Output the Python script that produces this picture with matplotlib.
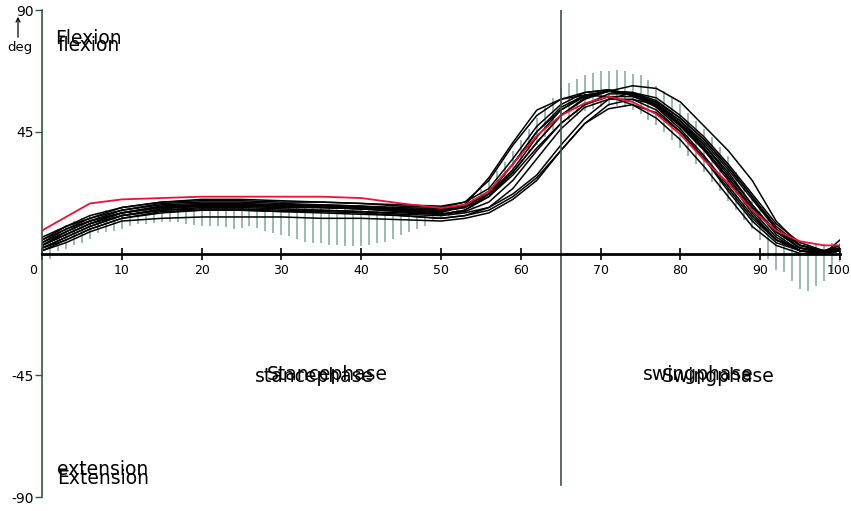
import matplotlib
matplotlib.use("Agg")
import matplotlib.pyplot as plt
import matplotlib.transforms as mtransforms

# ---------------- data ----------------
x_pct = [0, 3, 6, 10, 15, 20, 25, 30, 35, 40, 45, 50, 53, 56, 59, 62, 65, 68, 71, 74, 77, 80, 83, 86, 89, 92, 95, 98, 100]

curve_01 = [5, 10, 14, 17, 19, 19.5, 19.5, 19, 19, 18.5, 17.5, 17, 19, 27, 40, 51, 57, 59.5, 60.5, 58.5, 54, 46, 36, 25, 14, 5, 2, 1, 2]
curve_02 = [3, 7, 11, 15, 17.5, 18, 18, 18, 17.5, 17, 16, 15.5, 17, 23, 33, 45, 53, 58, 60, 58.5, 54.5, 47.5, 38.5, 28, 17, 8, 2, 0.5, 1.5]
curve_03 = [2, 6, 10, 14, 16, 17, 17, 16.5, 16, 15.5, 14.5, 14, 15, 17, 22, 29, 40, 50, 57, 59.5, 57.5, 51, 43, 33, 22, 11, 4, 1, 1]
curve_04 = [4, 8, 12, 16, 18.5, 19, 19, 18.5, 18, 17.5, 16.5, 16, 17.5, 22, 30, 41, 51, 57.5, 60, 59.5, 56.5, 50, 42, 32, 21, 10, 3, 1, 2]
curve_05 = [3, 7, 11, 14, 16, 16.5, 16.5, 16, 16, 15.5, 15, 14.5, 16, 21, 30, 41, 51, 57, 60, 62, 61, 56, 47, 38, 27, 12, 3, 1, 2]
curve_06 = [1, 4, 8, 12, 13, 13.5, 13.5, 13.5, 13, 13, 12.5, 12, 13, 15, 20, 27, 38, 48, 53.5, 55, 52, 45, 35, 24, 13, 5, 1, 0, 1]
curve_07 = [2, 5, 9, 13, 15.5, 16, 16, 15.5, 15, 14.5, 14, 13, 14, 17, 24, 35, 46, 54, 57, 57, 53, 45, 35, 23, 12, 4, 1, 0, 1]
curve_08 = [4, 9, 13, 17, 19, 20, 20, 19.5, 19, 18.5, 18, 17.5, 19, 24, 35, 47, 55, 59.5, 60.5, 59, 55, 48, 40, 30, 18, 8, 2, 1, 3]
curve_09 = [3, 7, 11, 15, 17, 17.5, 17.5, 17, 17, 16.5, 16, 15, 18, 28, 41, 53, 57, 58.5, 58, 55, 50, 42, 32, 21, 10, 3, 0, 0, 1]
curve_10 = [6, 10, 13, 16, 18, 18.5, 18.5, 18, 18, 17.5, 17, 16.5, 18, 22, 31, 43, 53, 58.5, 60, 59.5, 55.5, 49, 41, 31, 20, 9, 3, 1, 3]
curve_11 = [2, 6, 10, 14, 16.5, 17.5, 17.5, 17, 17, 16.5, 15.5, 14.5, 15.5, 19, 27, 38, 48, 55, 58, 58, 55, 48, 39, 28, 16, 6, 1, 0, 5]
curve_12 = [5, 9, 12, 15, 17, 17.5, 18, 17.5, 17.5, 17, 16.5, 16, 17, 21, 29, 39, 48, 55, 59, 59, 56, 50, 42, 32, 21, 9, 2, 0, 1]
curve_13 = [1, 5, 9, 13, 15, 16, 16, 15.5, 15.5, 15, 14, 13, 14, 16, 21, 28, 38, 48, 55, 57, 55, 49, 40, 29, 18, 7, 1, 0, 2]
curve_14 = [3, 8, 12, 15, 17.5, 18, 18, 17.5, 17, 16.5, 15.5, 14.5, 16, 22, 33, 45, 54, 58.5, 60, 58.5, 54.5, 47, 38, 27, 15, 5, 1, 0, 1]
black_curves = [curve_01, curve_02, curve_03, curve_04, curve_05, curve_06, curve_07,
                curve_08, curve_09, curve_10, curve_11, curve_12, curve_13, curve_14]

red_curve = [8.5, 13.5, 18.5, 20, 20.5, 21, 21, 21, 21, 20.5, 18.5, 16.8, 18, 23, 33, 43.5, 51, 55.5, 58, 56, 51.5, 44, 34.5, 26, 16, 8.5, 4.5, 3, 3]

band_x = list(range(0, 101))
band_lower = [-2, -2, 1, 1.8, 3, 3.7, 5.5, 7.4, 7.8, 8.3,
              9, 10, 11, 11, 11.3, 11.8, 11.8, 11.8, 11, 10.6,
              10.3, 10.3, 10.3, 9.8, 9.2, 9.5, 10, 9.5, 8.5, 7.4,
              6.8, 6.3, 5.5, 4.4, 3.7, 3.7, 3, 3, 2.6, 2.6,
              2.6, 3, 3.7, 4.4, 5.5, 6.8, 8, 9.2, 10.3, 12,
              12.8, 13.7, 14.5, 15.5, 17, 19, 21.5, 24.5, 27.5, 31,
              34, 37, 40, 43, 45.5, 47.5, 49.5, 51, 52.5, 53.5,
              54, 54.5, 54.5, 54, 53, 51.5, 49.5, 47.5, 45, 42,
              39, 36, 33, 30, 26.5, 23, 19.5, 16, 12.5, 9,
              5, -2, -6, -7, -10, -13, -13.7, -12, -10, -6.7,
              -3]
band_upper = [6, 7.5, 9, 10.5, 12, 13, 14, 15, 16, 16.5,
              17, 17.5, 18, 18, 18, 18.5, 18.5, 18.5, 18.5, 18.5,
              18.5, 18.5, 18.5, 18.5, 18.5, 18.5, 18.5, 18.5, 18, 18,
              18, 18, 18, 18, 18, 18, 17.5, 17.5, 17.5, 17.5,
              17.5, 17.5, 17.5, 17.5, 17.5, 17.5, 17, 17, 16.5, 16.5,
              16.5, 17, 18, 19.5, 21.5, 24, 27, 30.5, 34, 38,
              42, 46, 50, 54, 57.5, 61, 63, 64.5, 65.8, 66.7,
              67.3, 67.6, 67.7, 67.3, 66.5, 65.8, 64, 62, 60, 57.5,
              55.4, 52, 49, 46, 43, 39.5, 36, 30, 26, 21,
              17, 13.5, 10, 7, 5, 4, 3.5, 3.5, 3.5, 4,
              4]

x_ticks = [0, 10, 20, 30, 40, 50, 60, 70, 80, 90, 100]
x_tick_labels = ["0", "10", "20", "30", "40", "50", "60", "70", "80", "90", "100"]
y_ticks = [-90, -45, 45, 90]
y_tick_labels = ["-90", "-45", "45", "90"]
phase_boundary = 65

# ---------------- figure ----------------
W, H = 851, 511
fig = plt.figure(figsize=(W / 100, H / 100), dpi=100)
fig.patch.set_facecolor("white")
ax = fig.add_axes([42 / W, (H - 497) / H, 798 / W, 487 / H])
ax.set_xlim(0, 100)
ax.set_ylim(-90, 90)
ax.set_facecolor("white")

# normative band as vertical lines
ax.vlines(band_x, band_lower, band_upper, colors="#7ea89c", linewidth=1.1, zorder=1)

for c in black_curves:
    ax.plot(x_pct, c, color="black", linewidth=1.1, zorder=2)
ax.plot(x_pct, red_curve, color="#ee1133", linewidth=1.3, zorder=3)

# phase boundary
ax.axvline(phase_boundary, ymin=0.024, ymax=1.0, color="#3c5248", linewidth=1.2, zorder=4)

# spines / axes
for s in ["top", "right"]:
    ax.spines[s].set_visible(False)
ax.spines["bottom"].set_position(("data", 0))
ax.spines["bottom"].set_linewidth(2.0)
ax.spines["bottom"].set_color("black")
ax.spines["bottom"].set_zorder(5)
ax.spines["left"].set_position(("data", 0))
ax.spines["left"].set_color("#2f5a44")
ax.spines["left"].set_linewidth(1.2)

ax.set_xticks(x_ticks)
ax.set_xticklabels(x_tick_labels)
ax.tick_params(axis="x", direction="inout", length=9, width=1.2, color="black",
               labelsize=9, pad=3)
xl = ax.get_xticklabels()
xl[0].set_transform(xl[0].get_transform() + mtransforms.ScaledTranslation(-9 / 100, 0, fig.dpi_scale_trans))
xl[-1].set_transform(xl[-1].get_transform() + mtransforms.ScaledTranslation(-1.5 / 100, 0, fig.dpi_scale_trans))
ax.set_yticks(y_ticks)
ax.set_yticklabels(y_tick_labels)
ax.tick_params(axis="y", direction="out", length=5, width=1.0, color="#2f5a44",
               labelsize=10, pad=1)

# texts
fnt = dict(fontsize=13.5, color="black", family="DejaVu Sans")
ax.text(1.6, 79.5, "Flexion", ha="left", va="center", **fnt)
ax.text(1.9, 77.0, "flexion", ha="left", va="center", **fnt)
ax.text(26.7, -45.3, "stancephase", ha="left", va="center", **fnt)
ax.text(28.2, -44.6, "Stancephase", ha="left", va="center", **fnt)
ax.text(75.3, -44.6, "swingphase", ha="left", va="center", **fnt)
ax.text(77.7, -45.3, "Swingphase", ha="left", va="center", **fnt)
ax.text(1.9, -80.0, "extension", ha="left", va="center", **fnt)
ax.text(1.9, -83.0, "Extension", ha="left", va="center", **fnt)

fig.text(20 / W, 1 - 48 / H, "deg", ha="center", va="center", fontsize=9.5)
fig.patches.append(matplotlib.patches.FancyArrowPatch(
    (18 / W, 1 - 40 / H), (18 / W, 1 - 14 / H), transform=fig.transFigure,
    arrowstyle="->", mutation_scale=7, linewidth=0.9, color="black"))

fig.savefig("out.png", dpi=100, facecolor="white")
